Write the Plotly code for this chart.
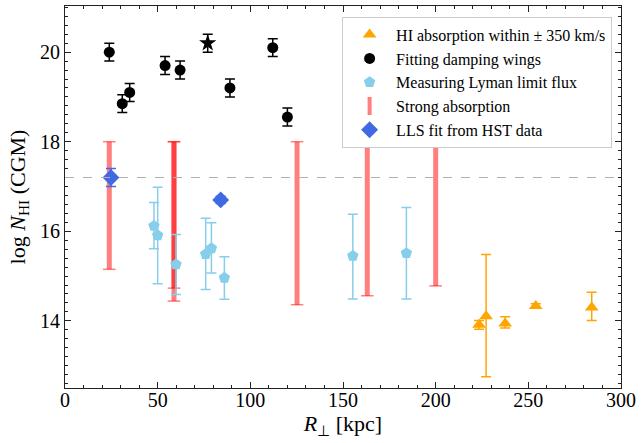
import plotly.graph_objects as go

# ---- data ----
# Fitting damping wings (circles)
dw_x = [23.9, 30.9, 34.9, 54.0, 62.1, 89.0, 112.1, 120.0]
dw_y = [20.0, 18.85, 19.1, 19.7, 19.6, 19.2, 20.1, 18.55]
dw_err = [0.2, 0.2, 0.2, 0.2, 0.2, 0.2, 0.2, 0.2]
# Fitting damping wings (star)
star_x = [77.0]
star_y = [20.2]
star_err = [0.2]

# Measuring Lyman limit flux
ll_x = [48.0, 50.0, 59.9, 75.9, 79.0, 86.0, 155.3, 184.2]
ll_y = [16.12, 15.91, 15.26, 15.49, 15.62, 14.96, 15.45, 15.51]
ll_up = [0.52, 1.07, 0.67, 0.80, 0.57, 0.47, 0.93, 1.02]
ll_dn = [0.51, 1.08, 0.67, 0.79, 0.55, 0.48, 0.96, 1.02]

# Strong absorption (ranges)
sa_x = [23.9, 58.8, 58.8, 125.2, 163.1, 200.0]
sa_hi = [18.0, 18.0, 18.0, 18.0, 18.0, 18.0]
sa_lo = [15.15, 14.73, 14.44, 14.36, 14.56, 14.78]

# LLS fit from HST data
hst_x = [24.8, 84.0]
hst_y = [17.2, 16.7]
hst_err = [0.2, 0.08]

# HI absorption within +-350 km/s
hi_x = [223.4, 227.2, 237.5, 254.0, 284.2]
hi_y = [13.91, 14.10, 13.94, 14.33, 14.30]
hi_up = [0.10, 1.38, 0.15, 0.05, 0.34]
hi_dn = [0.10, 1.35, 0.10, 0.05, 0.29]

ref_line = 17.2

FONT = "Liberation Serif"
RED = "rgba(255,0,0,0.5)"
SKY = "#87CEEB"
ROYAL = "#4169E1"
ORANGE = "#FFA500"

fig = go.Figure()

# strong absorption bars
fig.add_trace(go.Scatter(
    x=sa_x, y=sa_hi, mode="markers",
    marker=dict(size=1, color="rgba(0,0,0,0)"),
    error_y=dict(type="data", symmetric=False, array=[0]*len(sa_x),
                 arrayminus=[h - l for h, l in zip(sa_hi, sa_lo)],
                 color=RED, thickness=5, width=0),
    showlegend=False, hoverinfo="skip"))
fig.add_trace(go.Scatter(
    x=sa_x + sa_x, y=sa_hi + sa_lo, mode="markers",
    marker=dict(symbol="line-ew", size=9, line=dict(color=RED, width=1.5)),
    showlegend=False, hoverinfo="skip"))

fig.add_hline(y=ref_line, line=dict(color="#b0b0b0", width=1, dash="dash"))

# damping wings
fig.add_trace(go.Scatter(
    x=dw_x, y=dw_y, mode="markers", name="Fitting damping wings",
    marker=dict(symbol="circle", size=11, color="black"),
    error_y=dict(type="data", array=dw_err, color="black", thickness=1.5, width=5),
    legendrank=2))
fig.add_trace(go.Scatter(
    x=star_x, y=star_y, mode="markers", showlegend=False,
    marker=dict(symbol="star", size=13, color="black"),
    error_y=dict(type="data", array=star_err, color="black", thickness=1.5, width=5)))

# Lyman limit
fig.add_trace(go.Scatter(
    x=ll_x, y=ll_y, mode="markers", name="Measuring Lyman limit flux",
    marker=dict(symbol="pentagon", size=12, color=SKY),
    error_y=dict(type="data", symmetric=False, array=ll_up, arrayminus=ll_dn,
                 color=SKY, thickness=1.5, width=5),
    legendrank=3))

# legend entry for strong absorption
fig.add_trace(go.Scatter(
    x=[None], y=[None], mode="markers", name="Strong absorption",
    marker=dict(symbol="line-ns", size=13, line=dict(color=RED, width=4)),
    legendrank=4))

# HST
fig.add_trace(go.Scatter(
    x=hst_x, y=hst_y, mode="markers", name="LLS fit from HST data",
    marker=dict(symbol="diamond", size=13, color=ROYAL),
    error_y=dict(type="data", array=hst_err, color=ROYAL, thickness=1.5, width=5),
    legendrank=5))

# HI absorption
fig.add_trace(go.Scatter(
    x=hi_x, y=hi_y, mode="markers", name="HI absorption within \u00b1 350 km/s",
    marker=dict(symbol="triangle-up", size=12, color=ORANGE),
    error_y=dict(type="data", symmetric=False, array=hi_up, arrayminus=hi_dn,
                 color=ORANGE, thickness=1.5, width=5),
    legendrank=1))

axis_common = dict(
    showline=True, linecolor="#222222", linewidth=1, mirror="ticks",
    ticks="inside", ticklen=6, tickwidth=1, tickcolor="#222222",
    showgrid=False, zeroline=False,
    tickfont=dict(family=FONT, size=20, color="black"),
)

fig.update_xaxes(range=[0, 300], dtick=50, tick0=0,
                 minor=dict(ticks="inside", ticklen=3, dtick=10, tickcolor="#222222"),
                 title=dict(text="<i>R</i><sub>\u22a5</sub> [kpc]",
                            font=dict(family=FONT, size=22, color="black"), standoff=2),
                 **axis_common)
fig.update_yaxes(range=[12.5, 21.03], dtick=2, tick0=0,
                 minor=dict(ticks="inside", ticklen=3, dtick=0.2, tickcolor="#222222"),
                 title=dict(text="log <i>N</i><sub>HI</sub> (CGM)",
                            font=dict(family=FONT, size=22, color="black"), standoff=8),
                 **axis_common)
fig.update_xaxes(ticklabelstandoff=-6)

fig.update_layout(
    width=642, height=443,
    margin=dict(l=65, r=21, t=6, b=55),
    plot_bgcolor="white", paper_bgcolor="white",
    font=dict(family=FONT, color="black"),
    legend=dict(x=0.984, y=0.972, xanchor="right", yanchor="top",
                bgcolor="white", bordercolor="#cccccc", borderwidth=1,
                font=dict(family=FONT, size=16, color="black"),
                itemwidth=43, tracegroupgap=0),
)

fig.write_html("out.html", config={"displayModeBar": False},
               post_script="document.body.style.margin='0';document.body.style.padding='0';")
